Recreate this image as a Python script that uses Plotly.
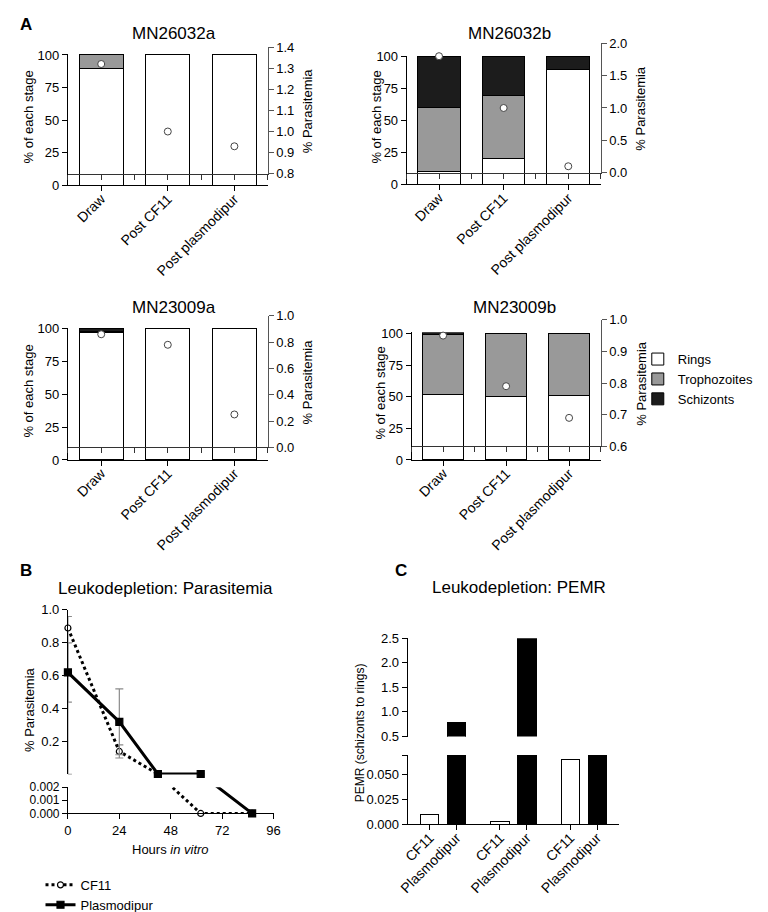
import plotly.graph_objects as go

W, H = 768, 912
FONT = "Liberation Sans, Arial, sans-serif"

# ---------------- data ----------------
stages = ["Draw", "Post CF11", "Post plasmodipur"]
samples = ["MN26032a", "MN26032b", "MN23009a", "MN23009b"]
ring_pct = [[90, 100, 100], [10, 20, 90], [97, 100, 100], [52, 50, 51]]
troph_pct = [[10, 0, 0], [50, 50, 0], [1, 0, 0], [47, 50, 49]]
schiz_pct = [[0, 0, 0], [40, 30, 10], [2, 0, 0], [2, 0, 0]]
parasitemia_A = [[1.32, 1.0, 0.93], [1.80, 1.0, 0.10], [0.86, 0.78, 0.25], [0.95, 0.79, 0.69]]

hours = [0, 24, 42, 62, 86]
cf11_par = [0.89, 0.14, 0.003, 0.0, 0.0]
cf11_err_plus = [0.07, 0.04, 0, 0, 0]
cf11_err_minus = [0.89, 0.04, 0, 0, 0]
plas_par = [0.62, 0.32, 0.003, 0.003, 0.0]
plas_err_plus = [0.18, 0.20, 0, 0, 0]
plas_err_minus = [0.18, 0.20, 0, 0, 0]

pemr_conditions = ["CF11", "Plasmodipur"]
pemr_cf11 = [0.010, 0.003, 0.065]
pemr_plas = [0.79, 2.55, 0.30]

# ---------------- helpers ----------------
def fx(px):
    return px / W

def fy(py):
    return 1 - py / H

def akey(prefix, n):
    return prefix if n == 1 else f"{prefix}{n}"

def aref(prefix, n):
    return prefix if n == 1 else f"{prefix}{n}"

AX = dict(showgrid=False, zeroline=False, showline=True, linecolor="black",
          linewidth=1, ticks="outside", tickcolor="black", ticklen=5,
          tickfont=dict(size=13, color="black", family=FONT))

fig = go.Figure()
layout = {}
ann = []

# ---------------- panel A ----------------
A_geom = [
    dict(x=(52, 256), yl=(40, 175), yr=(33, 163), rr=(0.8, 1.4), dt=0.1, tx=160, ty=19, lx=12, rx=297),
    dict(x=(398, 596), yl=(42, 174), yr=(29, 162), rr=(0.0, 2.0), dt=0.5, tx=503, ty=19, lx=367, rx=637),
    dict(x=(52, 256), yl=(321, 457), yr=(309, 444), rr=(0.0, 1.0), dt=0.2, tx=160, ty=300, lx=12, rx=297),
    dict(x=(403, 596), yl=(326, 457), yr=(313, 443), rr=(0.6, 1.0), dt=0.1, tx=508, ty=300, lx=371, rx=637),
]
stage_colors = ["white", "#999999", "#1c1c1c"]
stage_names = ["Rings", "Trophozoites", "Schizonts"]

for i, g in enumerate(A_geom):
    nl, nr = 2 * i + 1, 2 * i + 2
    vals = [ring_pct[i], troph_pct[i], schiz_pct[i]]
    for k in range(3):
        fig.add_trace(go.Bar(
            x=[0, 1, 2], y=vals[k], name=stage_names[k], width=0.66,
            marker=dict(color=stage_colors[k], line=dict(color="black", width=1)),
            cliponaxis=False,
            xaxis=aref("x", nl), yaxis=aref("y", nl),
            showlegend=(i == 0), legend="legend", legendgroup=stage_names[k]))
    fig.add_trace(go.Scatter(
        x=[0, 1, 2], y=parasitemia_A[i], mode="markers", showlegend=False,
        marker=dict(color="white", size=7, line=dict(color="#444444", width=1)),
        cliponaxis=False, xaxis=aref("x", nr), yaxis=aref("y", nr)))

    layout[akey("xaxis", nl)] = dict(AX, domain=[fx(g["x"][0]), fx(g["x"][1])], range=[-0.5, 2.5],
                                     anchor=aref("y", nl), tickvals=[0, 1, 2], ticktext=stages,
                                     tickangle=-45, ticklabelstandoff=-6,
                                     tickfont=dict(size=14, color="black", family=FONT))
    layout[akey("yaxis", nl)] = dict(AX, domain=[fy(g["yl"][1]), fy(g["yl"][0])], range=[0, 100.8],
                                     anchor=aref("x", nl), tickvals=[0, 25, 50, 75, 100])
    layout[akey("xaxis", nr)] = dict(AX, domain=[fx(g["x"][0]), fx(g["x"][1])], range=[-0.5, 2.5],
                                     anchor=aref("y", nr), tickvals=[-0.5, 0, 0.5, 1, 1.5, 2, 2.5],
                                     showticklabels=False, linecolor="#333333", tickcolor="#333333")
    n_ticks = int(round((g["rr"][1] - g["rr"][0]) / g["dt"])) + 1
    layout[akey("yaxis", nr)] = dict(AX, domain=[fy(g["yr"][1]), fy(g["yr"][0])], range=list(g["rr"]),
                                     anchor=aref("x", nr), side="right",
                                     tickvals=[g["rr"][0] + j * g["dt"] for j in range(n_ticks)],
                                     tickformat=".1f", linecolor="#555555", tickcolor="#555555")
    ann.append(dict(text=samples[i], x=fx(g["tx"]), y=fy(g["ty"]), font=dict(size=17)))
    ann.append(dict(text="% of each stage", x=fx(g["lx"]), y=fy((g["yl"][0] + g["yl"][1]) / 2 - 3),
                    textangle=-90, font=dict(size=13)))
    ann.append(dict(text="% Parasitemia", x=fx(g["rx"]), y=fy((g["yr"][0] + g["yr"][1]) / 2),
                    textangle=-90, font=dict(size=13)))

# ---------------- panel B ----------------
BREAK_B = 0.002
bx = (52, 262)
b_up = (611, 780)
b_lo = (793, 820)
series_B = [
    ("CF11", cf11_par, cf11_err_plus, cf11_err_minus, "dot", "circle", "white", 6),
    ("Plasmodipur", plas_par, plas_err_plus, plas_err_minus, "solid", "square", "black", 7),
]
for name, vals, ep, em, dash, sym, mcol, msz in series_B:
    idx_up = [j for j, v in enumerate(vals) if v > BREAK_B]
    fig.add_trace(go.Scatter(
        x=[hours[j] for j in idx_up], y=[vals[j] for j in idx_up], name=name,
        mode="lines+markers", line=dict(color="black", width=3, dash=dash),
        marker=dict(symbol=sym, size=msz, color=mcol, line=dict(color="black", width=1.2)),
        error_y=dict(type="data", array=[ep[j] for j in idx_up], arrayminus=[em[j] for j in idx_up],
                     color="#8a8a8a", thickness=1.2, width=4),
        cliponaxis=False, legend="legend2", showlegend=True,
        xaxis="x9", yaxis="y9"))
    fig.add_trace(go.Scatter(
        x=hours, y=vals, mode="lines", showlegend=False,
        line=dict(color="black", width=3, dash=dash), xaxis="x10", yaxis="y10"))
    idx_lo = [j for j, v in enumerate(vals) if v <= BREAK_B]
    fig.add_trace(go.Scatter(
        x=[hours[j] for j in idx_lo], y=[vals[j] for j in idx_lo], mode="markers", showlegend=False,
        marker=dict(symbol=sym, size=msz, color=mcol, line=dict(color="black", width=1.2)),
        cliponaxis=False, xaxis="x10", yaxis="y10"))

layout["xaxis9"] = dict(AX, domain=[fx(bx[0]), fx(bx[1])], range=[0, 96], anchor="y9",
                        showline=False, ticks="", showticklabels=False)
layout["yaxis9"] = dict(AX, domain=[fy(b_up[1]), fy(b_up[0])], range=[0, 1.0], anchor="x9",
                        tickvals=[0.2, 0.4, 0.6, 0.8, 1.0], tickformat=".1f")
layout["xaxis10"] = dict(AX, domain=[fx(bx[0]), fx(bx[1])], range=[0, 96], anchor="y10",
                         tickvals=[0, 24, 48, 72, 96])
layout["yaxis10"] = dict(AX, domain=[fy(b_lo[1]), fy(b_lo[0])], range=[0, BREAK_B], anchor="x10",
                         tickvals=[0, 0.001, 0.002], tickformat=".3f",
                         tickfont=dict(size=12, color="black", family=FONT))

ann.append(dict(text="Leukodepletion: Parasitemia", x=fx(152), y=fy(589), font=dict(size=17)))
ann.append(dict(text="% Parasitemia", x=fx(12), y=fy(713), textangle=-90, font=dict(size=13)))
ann.append(dict(text="Hours <i>in vitro</i>", x=fx(157), y=fy(857), font=dict(size=13)))

# ---------------- panel C ----------------
GROUP_STEP = 2.615
c_x, c_val, c_col, c_lab = [], [], [], []
for gi in range(3):
    for m, (cond, arr, col) in enumerate(zip(pemr_conditions, [pemr_cf11, pemr_plas], ["white", "black"])):
        c_x.append(gi * GROUP_STEP + m)
        c_val.append(arr[gi])
        c_col.append(col)
        c_lab.append(cond)
cx = (399, 615)
c_up = (640, 741)
c_lo = (760, 831)
for xa, ya in [("x11", "y11"), ("x12", "y12")]:
    fig.add_trace(go.Bar(x=c_x, y=c_val, width=0.68, showlegend=False,
                         marker=dict(color=c_col, line=dict(color="black", width=1)),
                         xaxis=xa, yaxis=ya))
layout["xaxis11"] = dict(AX, domain=[fx(cx[0]), fx(cx[1])], range=[-0.82, 7.05], anchor="y11",
                         showline=False, ticks="", showticklabels=False)
layout["yaxis11"] = dict(AX, domain=[fy(c_up[1]), fy(c_up[0])], range=[0.5, 2.5], anchor="x11",
                         tickvals=[0.5, 1.0, 1.5, 2.0, 2.5], tickformat=".1f")
layout["xaxis12"] = dict(AX, domain=[fx(cx[0]), fx(cx[1])], range=[-0.82, 7.05], anchor="y12",
                         tickvals=c_x, ticktext=c_lab, tickangle=-45, ticklabelstandoff=-6,
                         tickfont=dict(size=14, color="black", family=FONT))
layout["yaxis12"] = dict(AX, domain=[fy(c_lo[1]), fy(c_lo[0])], range=[0, 0.07], anchor="x12",
                         tickvals=[0, 0.025, 0.05, 0.07], ticktext=["0.000", "0.025", "0.050", ""])

ann.append(dict(text="Leukodepletion: PEMR", x=fx(513), y=fy(588), font=dict(size=17)))
ann.append(dict(text="PEMR (schizonts to rings)", x=fx(350), y=fy(737), textangle=-90, font=dict(size=12)))

# panel letters
for t, px_, py_ in [("A", 9, 10), ("B", 9, 570), ("C", 392, 570)]:
    ann.append(dict(text=f"<b>{t}</b>", x=fx(px_), y=fy(py_), font=dict(size=17)))

for a in ann:
    a.update(xref="paper", yref="paper", showarrow=False, xanchor="center", yanchor="middle")
    a["font"] = dict(family=FONT, color="black", **a["font"])

fig.update_layout(
    width=W, height=H, margin=dict(l=0, r=0, t=0, b=0),
    paper_bgcolor="white", plot_bgcolor="rgba(0,0,0,0)",
    barmode="stack", font=dict(family=FONT, color="black", size=13),
    annotations=ann,
    legend=dict(x=fx(634), y=fy(338), xanchor="left", yanchor="top", bgcolor="rgba(0,0,0,0)",
                font=dict(size=13), tracegroupgap=0, itemwidth=30, traceorder="normal"),
    legend2=dict(x=fx(24), y=fy(878), xanchor="left", yanchor="top", bgcolor="rgba(0,0,0,0)",
                 font=dict(size=13), tracegroupgap=0, itemwidth=30),
    **layout,
)

fig.write_html("out.html")
